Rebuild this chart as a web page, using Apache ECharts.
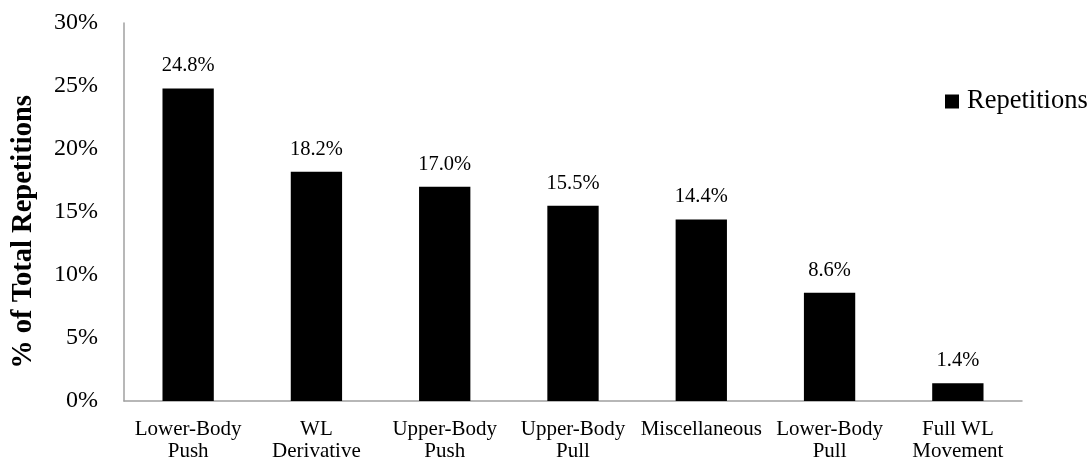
<!DOCTYPE html>
<html>
<head>
<meta charset="utf-8">
<script src="https://cdn.jsdelivr.net/npm/echarts@6/dist/echarts.min.js"></script>
<style>
  html, body { margin: 0; padding: 0; background: #ffffff; }
  #chart { width: 1088px; height: 462px; }
</style>
</head>
<body>
<div id="chart"></div>
<script>
// Share of total repetitions by exercise category
const categories = [
  'Lower-Body\nPush',
  'WL\nDerivative',
  'Upper-Body\nPush',
  'Upper-Body\nPull',
  'Miscellaneous',
  'Lower-Body\nPull',
  'Full WL\nMovement'
];
const repetitions = [24.8, 18.2, 17.0, 15.5, 14.4, 8.6, 1.4];
const yTicks = [0, 5, 10, 15, 20, 25, 30];
const yTitle = '% of Total Repetitions';

const serif = "'Liberation Serif', 'Times New Roman', serif";
const axisGrey = '#a0a0a0';

const chart = echarts.init(document.getElementById('chart'), null, { renderer: 'canvas' });

chart.setOption({
  backgroundColor: '#ffffff',
  animation: false,
  grid: { left: 124, right: 66, top: 23, bottom: 58, containLabel: false },
  legend: {
    data: ['Repetitions'],
    left: 945,
    top: 88,
    padding: 0,
    icon: 'rect',
    itemWidth: 14,
    itemHeight: 14,
    textStyle: { fontFamily: serif, fontSize: 26.5, color: '#000000', padding: [0, 0, 0, 3] }
  },
  // rotated axis title, placed slightly below the plot's vertical centre
  graphic: [{
    type: 'text',
    x: 24,
    y: 232,
    rotation: Math.PI / 2,
    style: {
      text: yTitle,
      fontFamily: serif,
      fontSize: 28.5,
      fontWeight: 'bold',
      fill: '#000000',
      align: 'center',
      verticalAlign: 'middle'
    }
  }],
  xAxis: {
    type: 'category',
    data: categories,
    axisLine: { show: true, lineStyle: { color: axisGrey, width: 1.5 } },
    axisTick: { show: false },
    axisLabel: {
      interval: 0,
      margin: 17,
      fontFamily: serif,
      fontSize: 21,
      lineHeight: 22,
      color: '#000000'
    }
  },
  yAxis: {
    type: 'value',
    min: yTicks[0],
    max: yTicks[yTicks.length - 1],
    interval: 5,
    axisLine: { show: true, lineStyle: { color: axisGrey, width: 1.5 } },
    axisTick: { show: false },
    splitLine: { show: false },
    axisLabel: {
      margin: 26,
      fontFamily: serif,
      fontSize: 24,
      color: '#000000',
      formatter: '{value}%'
    }
  },
  series: [{
    name: 'Repetitions',
    type: 'bar',
    data: repetitions,
    barWidth: '40%',
    itemStyle: { color: '#000000' },
    label: {
      show: true,
      position: 'top',
      distance: 12,
      fontFamily: serif,
      fontSize: 20.5,
      color: '#000000',
      formatter: p => p.value.toFixed(1) + '%'
    }
  }]
});
</script>
</body>
</html>
